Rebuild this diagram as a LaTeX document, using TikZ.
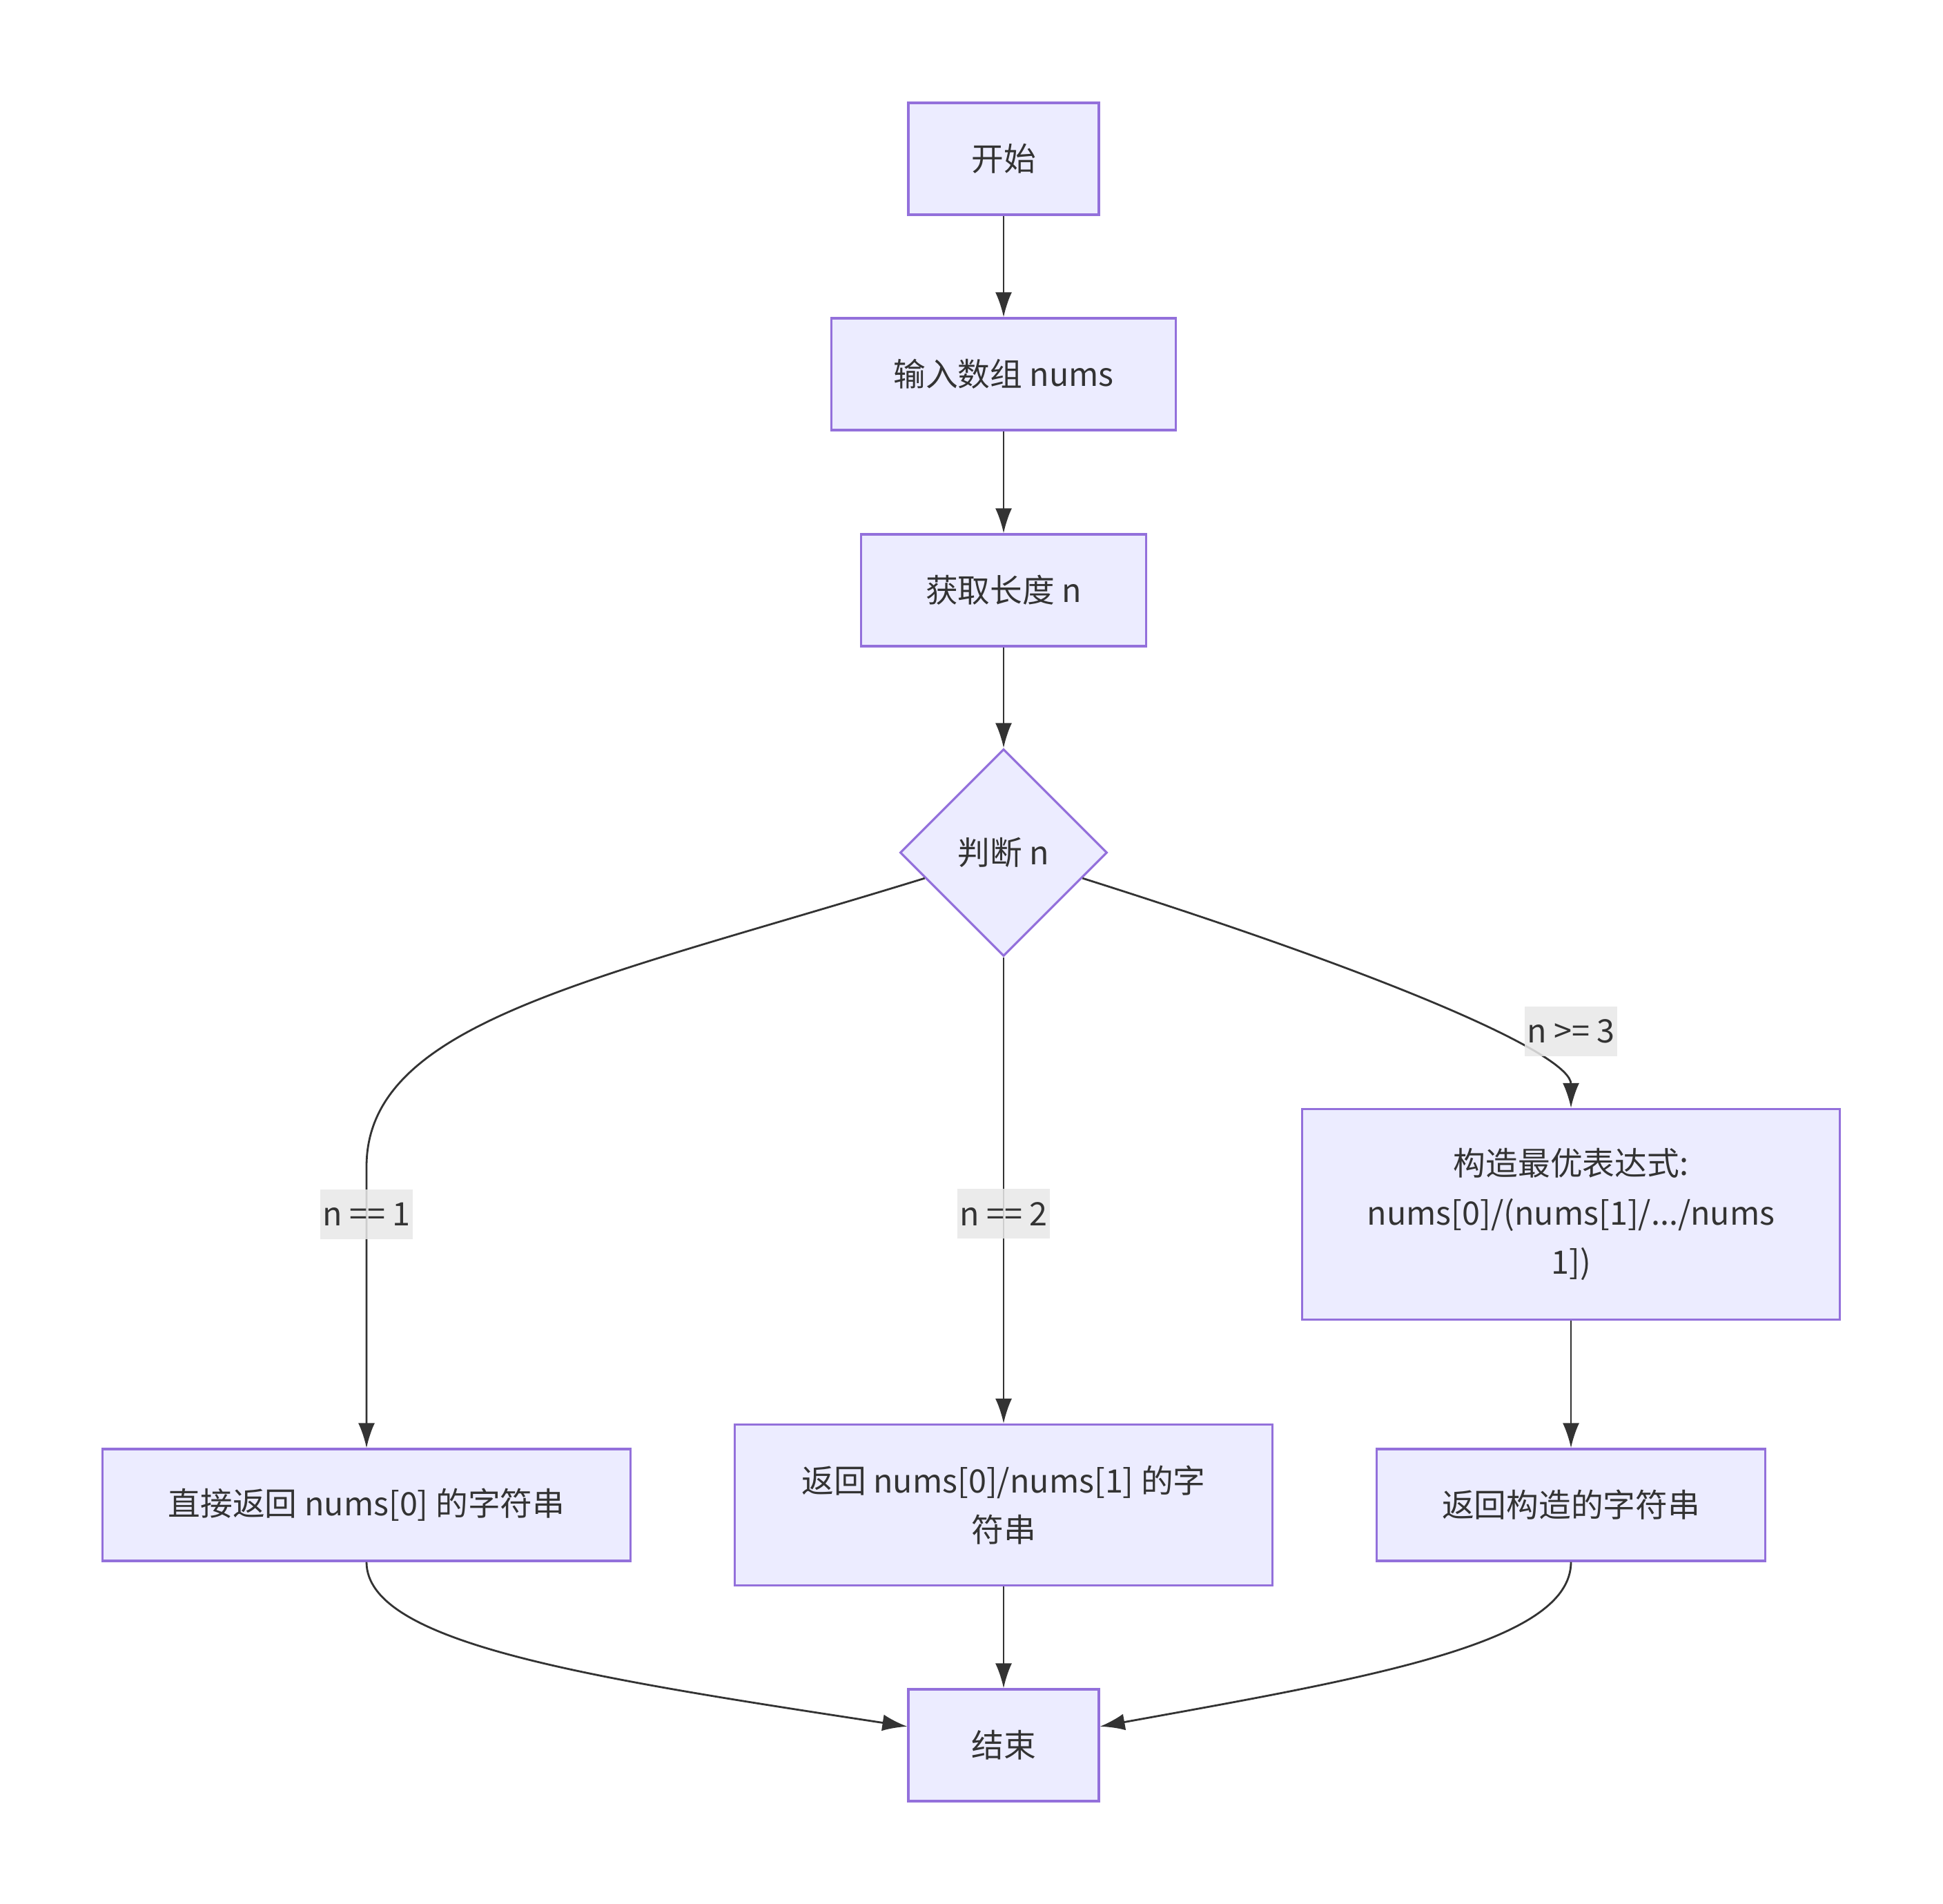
\documentclass[tikz,border=0pt]{standalone}
\usepackage{fontspec}
\setmainfont{Noto Sans CJK SC}
\usetikzlibrary{shapes.geometric,arrows.meta,positioning,calc}
\definecolor{nodefill}{HTML}{ECECFF}
\definecolor{nodeline}{HTML}{9370DB}
\definecolor{edgeline}{HTML}{333333}
\definecolor{lblfill}{HTML}{E8E8E8}

\begin{document}
\begin{tikzpicture}[
    every node/.style={font=\fontsize{13.3}{20.4}\selectfont, text=edgeline},
    proc/.style={rectangle, draw=nodeline, fill=nodefill, line width=0.9pt, minimum height=1.62cm, align=center, inner sep=0pt},
    cond/.style={diamond, draw=nodeline, fill=nodefill, line width=0.9pt, minimum width=3cm, minimum height=3cm, inner sep=0pt},
    lbl/.style={fill=lblfill, fill opacity=0.85, text opacity=1, inner xsep=1pt, minimum height=0.72cm},
    flow/.style={draw=edgeline, line width=0.8pt, -{Latex[length=3.6mm,width=2.4mm]}}
]
\useasboundingbox (0,0) rectangle (28.15,-27.57);

% main column
\node[proc, minimum width=2.76cm] (start) at (14.54,-2.30) {开始};
\node[proc, minimum width=4.99cm] (input) at (14.54,-5.42) {输入数组 nums};
\node[proc, minimum width=4.13cm] (len) at (14.54,-8.55) {获取长度 n};
\node[cond] (judge) at (14.54,-12.35) {判断 n};

% branches
\node[proc, minimum width=7.65cm] (ret1) at (5.31,-21.80) {直接返回 nums[0] 的字符串};
\node[proc, minimum width=7.79cm, minimum height=2.33cm] (ret2) at (14.54,-21.80) {返回 nums[0]/nums[1] 的字\\符串};
\node[proc, minimum width=7.79cm, minimum height=3.05cm] (build) at (22.76,-17.59) {构造最优表达式:\\nums[0]/(nums[1]/.../nums\\1])};
\node[proc, minimum width=5.63cm] (ret3) at (22.76,-21.80) {返回构造的字符串};
\node[proc, minimum width=2.76cm] (end) at (14.54,-25.28) {结束};

\draw[flow] (start) -- (input);
\draw[flow] (input) -- (len);
\draw[flow] (len) -- (judge);

\draw[flow] (judge.198) .. controls (8.6,-14.2) and (5.31,-14.8) .. (5.31,-16.9)
    -- node[lbl, pos=0.17] {n == 1} (ret1);
\draw[flow] (judge) -- node[lbl, pos=0.55] {n == 2} (ret2);
\draw[flow] (judge.342) .. controls (20.46,-14.23) and (22.76,-15.3) .. (build.north);
\node[lbl] (lbl3) at (22.76,-14.94) {n >= 3};

\draw[flow] (build) -- (ret3);
\draw[flow] (ret1.south) .. controls (5.31,-23.8) and (8.5,-24.3) .. (end.169);
\draw[flow] (ret2) -- (end);
\draw[flow] (ret3.south) .. controls (22.76,-23.8) and (19.86,-24.3) .. (end.11);

\end{tikzpicture}
\end{document}
